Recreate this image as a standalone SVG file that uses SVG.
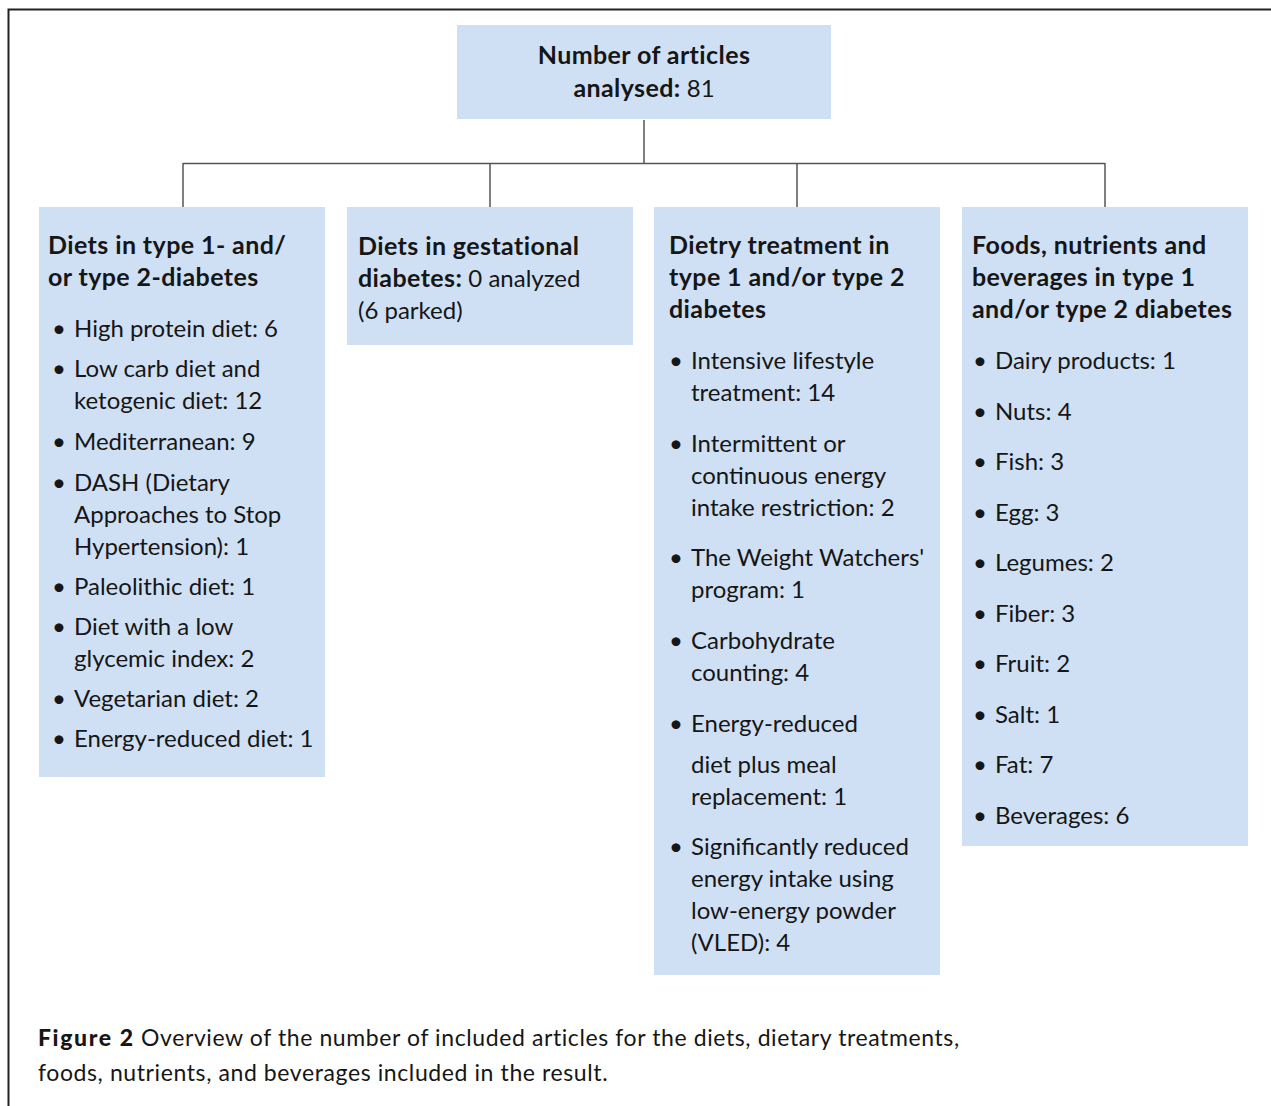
<svg xmlns="http://www.w3.org/2000/svg" width="1271" height="1106" viewBox="0 0 1271 1106">
<style>
.box{fill:#cfe0f4}
.t{font-family:Lato,"Open Sans","DejaVu Sans",sans-serif;font-size:24px;fill:#161616}
.b{font-weight:bold;font-size:25px;letter-spacing:0.4px}
.cap{font-family:Lato,"Open Sans","DejaVu Sans",sans-serif;font-size:23px;letter-spacing:0.6px;fill:#161616}
.ln{stroke:#555;stroke-width:1.5;fill:none}
</style>
<rect width="1271" height="1106" fill="#fff"/>
<path d="M8.5 1106 V9.5 H1271" fill="none" stroke="#222" stroke-width="2"/>
<g id="connectors" class="ln">
<path d="M644 120 V163.5 M183 163.5 H1105 M183 163 V207 M490 163 V207 M797 163 V207 M1105 163 V207"/>
</g>
<g id="root">
<rect class="box" x="457" y="25" width="374" height="94"/>
<text class="t b" x="644" y="64" text-anchor="middle">Number of articles</text>
<text class="t" x="644" y="97" text-anchor="middle"><tspan class="b">analysed:</tspan> 81</text>
</g>
<g id="diets-type1-2">
<rect class="box" x="39" y="207" width="286" height="570"/>
<text class="t b" x="48" y="254">Diets in type 1- and/</text>
<text class="t b" x="48" y="286">or type 2-diabetes</text>
<g class="t">
<text x="52" y="337">•</text><text x="74" y="337">High protein diet: 6</text>
<text x="52" y="377">•</text><text x="74" y="377">Low carb diet and</text>
<text x="74" y="409">ketogenic diet: 12</text>
<text x="52" y="450">•</text><text x="74" y="450">Mediterranean: 9</text>
<text x="52" y="491">•</text><text x="74" y="491">DASH (Dietary</text>
<text x="74" y="523">Approaches to Stop</text>
<text x="74" y="555">Hypertension): 1</text>
<text x="52" y="595">•</text><text x="74" y="595">Paleolithic diet: 1</text>
<text x="52" y="635">•</text><text x="74" y="635">Diet with a low</text>
<text x="74" y="667">glycemic index: 2</text>
<text x="52" y="707">•</text><text x="74" y="707">Vegetarian diet: 2</text>
<text x="52" y="747">•</text><text x="74" y="747">Energy-reduced diet: 1</text>
</g>
</g>
<g id="diets-gestational">
<rect class="box" x="347" y="207" width="286" height="138"/>
<text class="t b" x="358" y="255">Diets in gestational</text>
<text class="t" x="358" y="287"><tspan class="b">diabetes:</tspan> 0 analyzed</text>
<text class="t" x="358" y="319">(6 parked)</text>
</g>
<g id="dietary-treatment">
<rect class="box" x="654" y="207" width="286" height="768"/>
<text class="t b" x="669" y="254">Dietry treatment in</text>
<text class="t b" x="669" y="286">type 1 and/or type 2</text>
<text class="t b" x="669" y="318">diabetes</text>
<g class="t">
<text x="669" y="369">•</text><text x="691" y="369">Intensive lifestyle</text>
<text x="691" y="401">treatment: 14</text>
<text x="669" y="452">•</text><text x="691" y="452">Intermittent or</text>
<text x="691" y="484">continuous energy</text>
<text x="691" y="516">intake restriction: 2</text>
<text x="669" y="566">•</text><text x="691" y="566">The Weight Watchers'</text>
<text x="691" y="598">program: 1</text>
<text x="669" y="649">•</text><text x="691" y="649">Carbohydrate</text>
<text x="691" y="681">counting: 4</text>
<text x="669" y="732">•</text><text x="691" y="732">Energy-reduced</text>
<text x="691" y="773">diet plus meal</text>
<text x="691" y="805">replacement: 1</text>
<text x="669" y="855">•</text><text x="691" y="855">Significantly reduced</text>
<text x="691" y="887">energy intake using</text>
<text x="691" y="919">low-energy powder</text>
<text x="691" y="951">(VLED): 4</text>
</g>
</g>
<g id="foods-nutrients">
<rect class="box" x="962" y="207" width="286" height="639"/>
<text class="t b" x="972" y="254">Foods, nutrients and</text>
<text class="t b" x="972" y="286">beverages in type 1</text>
<text class="t b" x="972" y="318">and/or type 2 diabetes</text>
<g class="t">
<text x="973" y="369">•</text><text x="995" y="369">Dairy products: 1</text>
<text x="973" y="419.5">•</text><text x="995" y="419.5">Nuts: 4</text>
<text x="973" y="470">•</text><text x="995" y="470">Fish: 3</text>
<text x="973" y="520.5">•</text><text x="995" y="520.5">Egg: 3</text>
<text x="973" y="571">•</text><text x="995" y="571">Legumes: 2</text>
<text x="973" y="621.5">•</text><text x="995" y="621.5">Fiber: 3</text>
<text x="973" y="672">•</text><text x="995" y="672">Fruit: 2</text>
<text x="973" y="722.5">•</text><text x="995" y="722.5">Salt: 1</text>
<text x="973" y="773">•</text><text x="995" y="773">Fat: 7</text>
<text x="973" y="823.5">•</text><text x="995" y="823.5">Beverages: 6</text>
</g>
</g>
<g id="caption">
<text class="cap" x="38" y="1046"><tspan font-weight="900" letter-spacing="1.6px">Figure 2</tspan> Overview of the number of included articles for the diets, dietary treatments,</text>
<text class="cap" x="38" y="1081">foods, nutrients, and beverages included in the result.</text>
</g>
</svg>
